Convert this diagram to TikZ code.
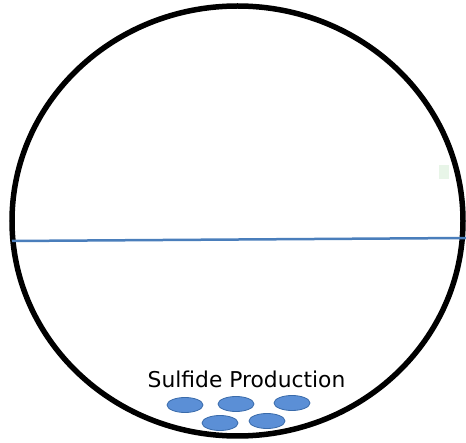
\documentclass[tikz,border=0pt]{standalone}
\usepackage{fontspec}
\setmainfont{DejaVu Sans}
\usetikzlibrary{shapes.geometric}
\definecolor{linkblue}{HTML}{4A7EBB}
\definecolor{dropfill}{HTML}{5B8FD6}
\definecolor{dropedge}{HTML}{3A6BAA}
\definecolor{paleg}{HTML}{E8F5E8}
\begin{document}
\begin{tikzpicture}[x=1pt,y=-1pt,
  drop/.style={ellipse,draw=dropedge,fill=dropfill,line width=0.8pt,minimum width=36pt,minimum height=15pt,inner sep=0pt}]
\useasboundingbox (0,0) rectangle (466,443);
\node[draw=black,line width=5.5pt,ellipse,minimum width=451pt,minimum height=430pt,inner sep=0pt] (cell) at (237.5,221) {};
\coordinate (L) at (12,241);
\coordinate (R) at (466,238);
\draw[linkblue,line width=2.5pt] (L) -- (R);
\node[fill=paleg,minimum width=10pt,minimum height=14pt,inner sep=0pt] (sq) at (444,172) {};
\node[font=\fontsize{21.8}{25}\selectfont] (lab) at (246.5,379) {Sulfide Production};
\node[drop] (d1) at (185,405) {};
\node[drop] (d2) at (236,404) {};
\node[drop] (d3) at (292,403) {};
\node[drop] (d4) at (220,423) {};
\node[drop] (d5) at (267,421) {};
\end{tikzpicture}
\end{document}
